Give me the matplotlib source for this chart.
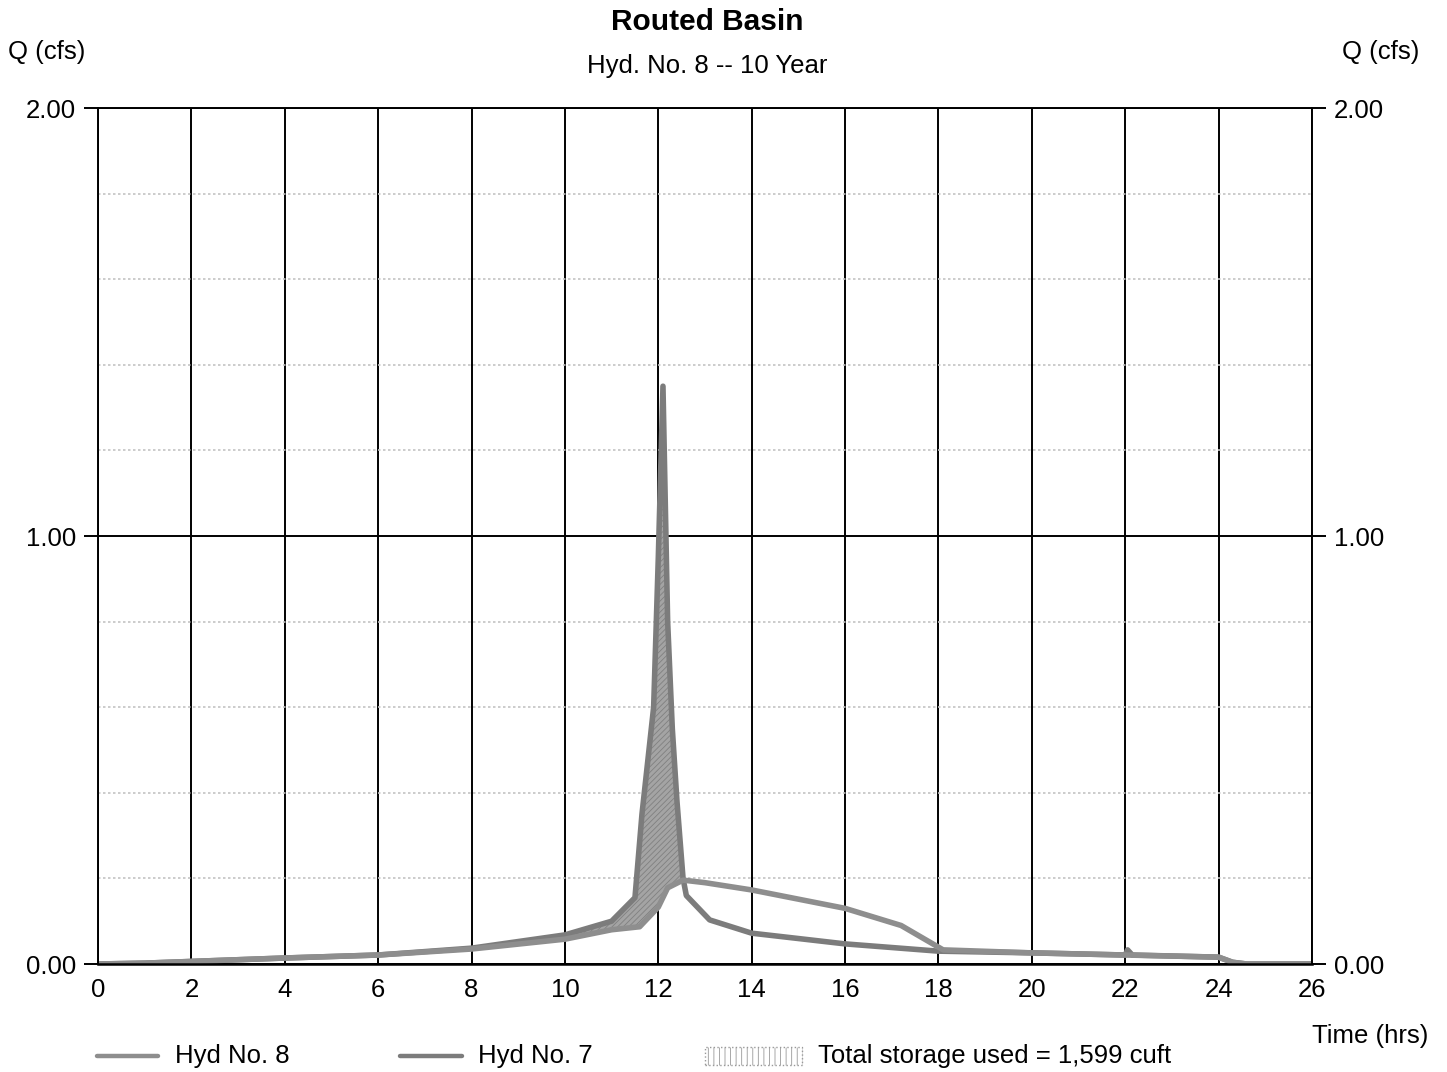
import numpy as np
import matplotlib.pyplot as plt
from matplotlib.lines import Line2D
from matplotlib.patches import Rectangle

plt.rcParams['font.family'] = ['Liberation Sans', 'DejaVu Sans']
plt.rcParams['hatch.linewidth'] = 0.6

# inflow hydrograph (Hyd No. 7)
t_in = [0, 1, 2, 4, 6, 8, 10, 11, 11.5, 11.65, 11.8, 11.9, 12.0, 12.1,
        12.2, 12.3, 12.4, 12.53, 12.6, 13.1, 14, 16, 18, 20, 22, 22.05,
        22.15, 24, 24.3, 24.6, 26]
q_in = [0, 0.002, 0.006, 0.014, 0.021, 0.037, 0.068, 0.1, 0.155, 0.35,
        0.5, 0.6, 0.95, 1.35, 0.8, 0.55, 0.38, 0.2, 0.16, 0.103, 0.072,
        0.047, 0.03, 0.026, 0.021, 0.033, 0.021, 0.016, 0.004, 0, 0]

# outflow hydrograph (Hyd No. 8)
t_out = [0, 1, 2, 4, 6, 8, 10, 11, 11.6, 12.0, 12.2, 12.53, 13, 14, 16,
         17.2, 18.1, 20, 22, 24, 24.3, 24.6, 26]
q_out = [0, 0.002, 0.006, 0.014, 0.021, 0.035, 0.058, 0.08, 0.087, 0.133,
         0.178, 0.196, 0.19, 0.173, 0.13, 0.09, 0.033, 0.026, 0.021, 0.016,
         0.004, 0, 0]

title = "Routed Basin"
subtitle = "Hyd. No. 8 -- 10 Year"
storage = "Total storage used = 1,599 cuft"

fig = plt.figure(figsize=(14.47, 10.72), dpi=100)
ax = fig.add_axes([98 / 1447, 1 - 964 / 1072, (1312 - 98) / 1447, (964 - 108) / 1072])

# storage area between the two curves
tt = np.union1d(t_in, t_out)
qi = np.interp(tt, t_in, q_in)
qo = np.interp(tt, t_out, q_out)
ax.fill_between(tt, qo, qi, where=qi >= qo, facecolor='#a4a4a4',
                edgecolor='#808080', hatch='//////', linewidth=0, zorder=3)

ax.plot(t_in, q_in, color='#7c7c7c', lw=4, zorder=4, solid_capstyle='round')
ax.plot(t_out, q_out, color='#8e8e8e', lw=4, zorder=5, solid_capstyle='round')

ax.set_xlim(0, 26)
ax.set_ylim(0, 2)
ax.set_xticks(np.arange(0, 27, 2))
ax.set_yticks([0, 1, 2])
ax.set_yticklabels(['0.00', '1.00', '2.00'])
ax.set_yticks(np.arange(0.2, 2.0, 0.2), minor=True)
ax.grid(True, which='major', color='black', lw=1.4, zorder=1)
ax.grid(True, which='minor', axis='y', color='#c4c4c4', lw=1.2, ls=(0, (1.5, 1.5)), zorder=1)
ax.tick_params(axis='both', which='major', labelsize=18.5, length=10, width=1.4,
               direction='out', pad=6, right=True, labelright=True)
ax.tick_params(axis='x', length=0, pad=10)
ax.tick_params(which='minor', length=0)
for s in ax.spines.values():
    s.set_linewidth(1.4)
    s.set_zorder(6)
ax.spines['bottom'].set_linewidth(1.8)

fig.text(707 / 1447, 1 - 22 / 1072, title, ha='center', va='center',
         fontsize=21.5, fontweight='bold')
fig.text(707 / 1447, 1 - 66 / 1072, subtitle, ha='center', va='center', fontsize=18.5)
fig.text(47 / 1447, 1 - 52 / 1072, "Q (cfs)", ha='center', va='center', fontsize=18.5)
fig.text(1381 / 1447, 1 - 52 / 1072, "Q (cfs)", ha='center', va='center', fontsize=18.5)
fig.text(1370 / 1447, 1 - 1036 / 1072, "Time (hrs)", ha='center', va='center', fontsize=18.5)

# legend
ly = 1 - 1056 / 1072
fig.add_artist(Line2D([97 / 1447, 158 / 1447], [ly, ly], color='#8e8e8e', lw=3.2,
                      solid_capstyle='round'))
fig.text(175 / 1447, ly, "Hyd No. 8", ha='left', va='center', fontsize=18.5)
fig.add_artist(Line2D([400 / 1447, 462 / 1447], [ly, ly], color='#7c7c7c', lw=3.2,
                      solid_capstyle='round'))
fig.text(478 / 1447, ly, "Hyd No. 7", ha='left', va='center', fontsize=18.5)
fig.add_artist(Rectangle((705 / 1447, ly - 9 / 1072), 97 / 1447, 18 / 1072,
                         facecolor='white', edgecolor='#999999', hatch='|||',
                         lw=1, ls=':', transform=fig.transFigure))
fig.text(818 / 1447, ly, storage, ha='left', va='center', fontsize=18.5)

fig.savefig('out.png', dpi=100, facecolor='white')
